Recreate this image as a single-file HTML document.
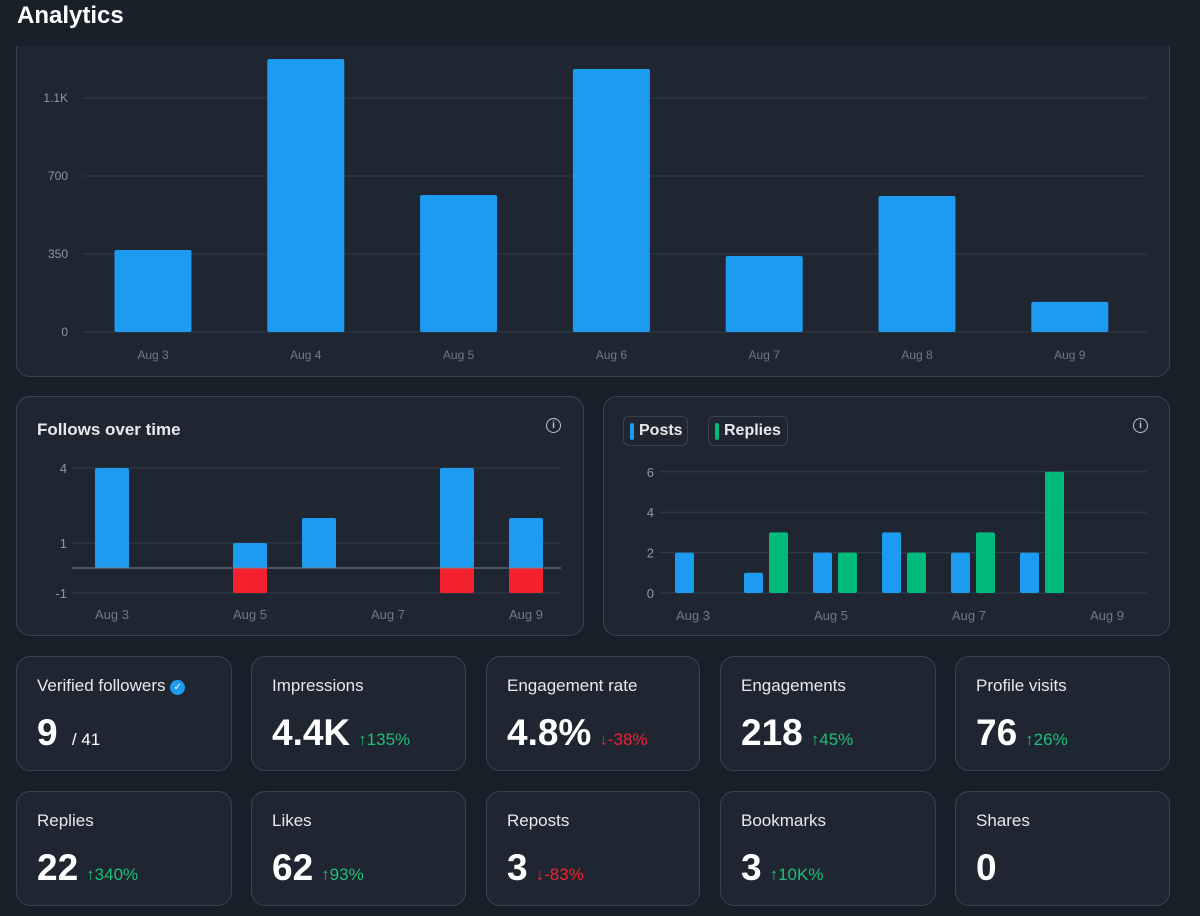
<!DOCTYPE html>
<html><head><meta charset="utf-8">
<style>
body{margin:0;width:1200px;height:916px;background:#171f29;font-family:"Liberation Sans",sans-serif;overflow:hidden;position:relative;color:#e7e9ea}
.card{position:absolute;background:#1f2631;border:1px solid #38444d;border-radius:14px;box-sizing:border-box}
.hdr{position:absolute;left:0;top:0;width:1200px;height:46px;background:#18202a;z-index:5}
.hdr span{position:absolute;left:17px;top:2px;font-size:24px;font-weight:bold;color:#fff}
svg text{font-family:"Liberation Sans",sans-serif}
.stat .lbl{position:absolute;left:20px;top:19px;font-size:17px;color:#e7e9ea}
.stat .val{position:absolute;left:20px;top:55px;font-size:37px;font-weight:bold;color:#fff}
.stat .chg{font-size:17px;font-weight:normal;margin-left:8px}
.up{color:#1fbf75}.down{color:#f4212e}
</style></head><body>
<div class="hdr"><span>Analytics</span></div>

<div class="card" style="left:16px;top:20px;width:1154px;height:357px"></div>
<svg id="top" style="position:absolute;left:0;top:0" width="1200" height="380"></svg>

<div class="card" style="left:16px;top:396px;width:568px;height:240px">
<div style="position:absolute;left:20px;top:23px;font-size:17px;font-weight:bold;color:#e7e9ea">Follows over time</div>
<div style="position:absolute;left:529px;top:21px;width:13px;height:13px;border:1.5px solid #c0c6cc;border-radius:50%;font-size:10px;line-height:13px;text-align:center;color:#c0c6cc;font-weight:bold">i</div>
</div>
<svg id="fol" style="position:absolute;left:0;top:0" width="600" height="640"></svg>

<div class="card" style="left:603px;top:396px;width:567px;height:240px">
<div style="position:absolute;left:19px;top:19px;width:65px;height:30px;border:1px solid #38444d;border-radius:6px;box-sizing:border-box"><div style="position:absolute;left:6px;top:6px;width:4px;height:17px;background:#1d9bf0;border-radius:2px"></div><span style="position:absolute;left:15px;top:5px;font-size:16px;font-weight:bold">Posts</span></div>
<div style="position:absolute;left:104px;top:19px;width:80px;height:30px;border:1px solid #38444d;border-radius:6px;box-sizing:border-box"><div style="position:absolute;left:6px;top:6px;width:4px;height:17px;background:#00ba7c;border-radius:2px"></div><span style="position:absolute;left:15px;top:5px;font-size:16px;font-weight:bold">Replies</span></div>
<div style="position:absolute;left:529px;top:21px;width:13px;height:13px;border:1.5px solid #c0c6cc;border-radius:50%;font-size:10px;line-height:13px;text-align:center;color:#c0c6cc;font-weight:bold">i</div>
</div>
<svg id="pr" style="position:absolute;left:0;top:0" width="1200" height="640"></svg>

<div class="card stat" style="left:16px;top:656px;width:216px;height:115px"><div class="lbl">Verified followers <span style="display:inline-block;width:15px;height:15px;background:#1d9bf0;border-radius:50%;color:#fff;font-size:10px;text-align:center;line-height:15px;vertical-align:1px">✓</span></div><div class="val">9 <span style="font-size:17px;font-weight:normal;margin-left:4px">/ 41</span></div></div>
<div class="card stat" style="left:251px;top:656px;width:215px;height:115px"><div class="lbl">Impressions</div><div class="val">4.4K<span class="chg up">↑135%</span></div></div>
<div class="card stat" style="left:486px;top:656px;width:214px;height:115px"><div class="lbl">Engagement rate</div><div class="val">4.8%<span class="chg down">↓-38%</span></div></div>
<div class="card stat" style="left:720px;top:656px;width:216px;height:115px"><div class="lbl">Engagements</div><div class="val">218<span class="chg up">↑45%</span></div></div>
<div class="card stat" style="left:955px;top:656px;width:215px;height:115px"><div class="lbl">Profile visits</div><div class="val">76<span class="chg up">↑26%</span></div></div>
<div class="card stat" style="left:16px;top:791px;width:216px;height:115px"><div class="lbl">Replies</div><div class="val">22<span class="chg up">↑340%</span></div></div>
<div class="card stat" style="left:251px;top:791px;width:215px;height:115px"><div class="lbl">Likes</div><div class="val">62<span class="chg up">↑93%</span></div></div>
<div class="card stat" style="left:486px;top:791px;width:214px;height:115px"><div class="lbl">Reposts</div><div class="val">3<span class="chg down">↓-83%</span></div></div>
<div class="card stat" style="left:720px;top:791px;width:216px;height:115px"><div class="lbl">Bookmarks</div><div class="val">3<span class="chg up">↑10K%</span></div></div>
<div class="card stat" style="left:955px;top:791px;width:215px;height:115px"><div class="lbl">Shares</div><div class="val">0</div></div>

<script>
const days=["Aug 3","Aug 4","Aug 5","Aug 6","Aug 7","Aug 8","Aug 9"];
const impressions=[368,1225,615,1180,341,610,135];
const impTicks=[0,350,700,1050];
const impTickLabels=["0","350","700","1.1K"];
const followsGained=[4,0,1,2,0,4,2];
const followsLost=[0,0,-1,0,0,-1,-1];
const folTicks=[4,1,-1];
const posts=[2,1,2,3,2,2,0];
const replies=[0,3,2,2,3,6,0];
const prTicks=[0,2,4,6];
const NS="http://www.w3.org/2000/svg";
function mk(svg,tag,attrs,txt){const e=document.createElementNS(NS,tag);for(const k in attrs)e.setAttribute(k,attrs[k]);if(txt!==undefined)e.textContent=txt;svg.appendChild(e);return e;}
// top chart
(function(){
const s=document.getElementById('top');
const y=v=>332-v*(78/350), x=i=>153+i*152.8;
impTicks.forEach((t,i)=>{const l=mk(s,'line',{x1:84,x2:1147,y1:y(t),y2:y(t),stroke:'#323d48','stroke-width':1});
const tx=mk(s,'text',{x:68,y:y(t)+4,'text-anchor':'end','font-size':12,fill:'#8b98a5'},impTickLabels[i]);});
impressions.forEach((v,i)=>{const r=mk(s,'rect',{x:x(i)-38.5,y:y(v),width:77,height:y(0)-y(v),rx:2,fill:'#1d9bf0'});
const t=mk(s,'text',{x:x(i),y:359,'text-anchor':'middle','font-size':12,fill:'#6e7a86'},days[i]);});
})();
// follows
(function(){
const s=document.getElementById('fol');
const y=v=>568-v*25, x=i=>112+i*69;
folTicks.forEach(t=>{const l=mk(s,'line',{x1:72,x2:561,y1:y(t),y2:y(t),stroke:'#323d48'});
const tx=mk(s,'text',{x:67,y:y(t)+5,'text-anchor':'end','font-size':13,fill:'#8b98a5'},String(t));});
followsGained.forEach((v,i)=>{if(v>0){const r=mk(s,'rect',{x:x(i)-17,y:y(v),width:34,height:y(0)-y(v),rx:2,fill:'#1d9bf0'});}
const lv=followsLost[i];if(lv<0){const r=mk(s,'rect',{x:x(i)-17,y:y(0),width:34,height:y(lv)-y(0),rx:2,fill:'#f4212e'});}
if(i%2===0){const t=mk(s,'text',{x:x(i),y:619,'text-anchor':'middle','font-size':13,fill:'#6e7a86'},days[i]);}});
const z=mk(s,'line',{x1:72,x2:561,y1:568,y2:568,stroke:'#7a8793'});
})();
// posts/replies
(function(){
const s=document.getElementById('pr');
const y=v=>593-v*20.2, x=i=>693+i*69;
prTicks.forEach(t=>{const l=mk(s,'line',{x1:659,x2:1147,y1:y(t),y2:y(t),stroke:'#323d48'});
const tx=mk(s,'text',{x:654,y:y(t)+5,'text-anchor':'end','font-size':13,fill:'#8b98a5'},String(t));});
days.forEach((d,i)=>{
if(posts[i]>0){const r=mk(s,'rect',{x:x(i)-18,y:y(posts[i]),width:19,height:y(0)-y(posts[i]),rx:2,fill:'#1d9bf0'});}
if(replies[i]>0){const r=mk(s,'rect',{x:x(i)+7,y:y(replies[i]),width:19,height:y(0)-y(replies[i]),rx:2,fill:'#00ba7c'});}
if(i%2===0){const t=mk(s,'text',{x:x(i),y:620,'text-anchor':'middle','font-size':13,fill:'#6e7a86'},d);}});
})();
</script>
</body></html>
